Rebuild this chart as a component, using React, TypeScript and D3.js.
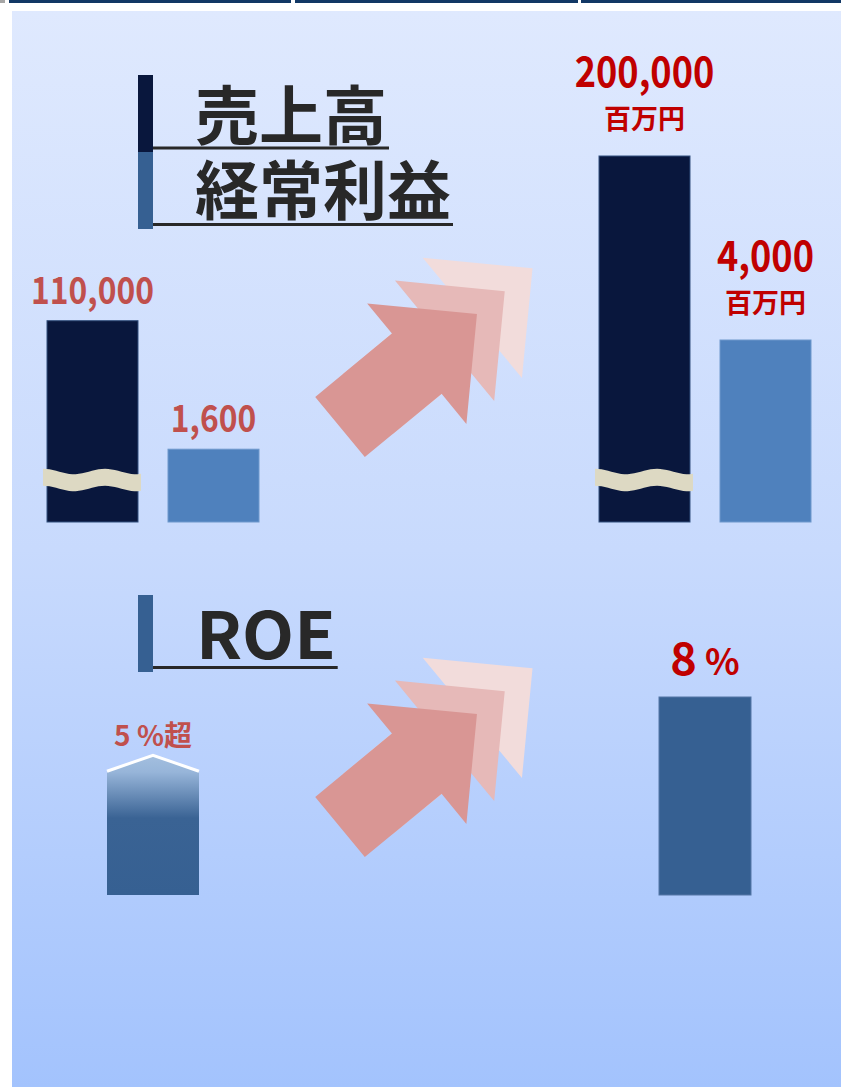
import React, { useLayoutEffect, useRef, useState } from "react";
import * as d3 from "d3";

// ---- data ----
const periods = ["現在", "目標"];
const metrics = ["売上高", "経常利益"];
const salesValues = [110000, 200000];
const profitValues = [1600, 4000];
const roeValues = [5, 8];
const roeSuffix = ["超", ""];
const unitLabels = ["", "百万円"];
const roeTitle = "ROE";

const W = 841;
const H = 1087;
const FONT = "'Noto Sans CJK JP', 'Noto Sans', sans-serif";

const C = {
  sales: "#09173d",
  salesStroke: "#33507e",
  profit: "#4f81bd",
  profitStroke: "#6e98cc",
  legendProfit: "#366092",
  roe: "#366092",
  title: "#282828",
  labelNow: "#c0504d",
  labelGoal: "#c00000",
  wave: "#ddd9c3",
  arrows: ["#f2dcdb", "#e6b9b8", "#d99694"],
};

function Title({ x, y, text, size, lineStart, lineY, sx = 1 }: any) {
  const ref = useRef<SVGTextElement>(null);
  const [w, setW] = useState(text.length * size);
  useLayoutEffect(() => {
    if (ref.current) setW(ref.current.getComputedTextLength() * sx);
  }, [text, size, sx]);
  return (
    <g>
      <text
        ref={ref}
        transform={`translate(${x},${y}) scale(${sx},1)`}
        fontFamily={FONT}
        fontWeight={700}
        fontSize={size}
        fill={C.title}
      >
        {text}
      </text>
      <line x1={lineStart} x2={x + w + 2} y1={lineY} y2={lineY} stroke={C.title} strokeWidth={3} />
    </g>
  );
}

function Label({ x, y, size, fill, sx, children }: any) {
  return (
    <text
      transform={`translate(${x},${y}) scale(${sx},1)`}
      textAnchor="middle"
      fontFamily={FONT}
      fontWeight={700}
      fontSize={size}
      fill={fill}
    >
      {children}
    </text>
  );
}

function Arrow({ x, y, angle }: any) {
  const shaftHW = 39;
  const shaftLen = 99.5;
  const headHW = 78;
  const headLen = 78;
  const shape: [number, number][] = [
    [0, -shaftHW],
    [shaftLen, -shaftHW],
    [shaftLen, -headHW],
    [shaftLen + headLen, 0],
    [shaftLen, headHW],
    [shaftLen, shaftHW],
    [0, shaftHW],
  ];
  const d = d3.line()(shape) + "Z";
  const step = 36;
  return (
    <g transform={`translate(${x},${y}) rotate(${angle})`}>
      {C.arrows.map((col, i) => (
        <path key={i} d={d} fill={col} transform={`translate(${(C.arrows.length - 1 - i) * step},0)`} />
      ))}
    </g>
  );
}

function waveBand(x0: number, x1: number, yTop: number, thick: number) {
  const P = 62;
  const A = 2.7;
  const n = 30;
  const pts: [number, number][] = d3.range(n + 1).map((i) => {
    const x = x0 + ((x1 - x0) * i) / n;
    return [x, yTop - A * Math.cos((2 * Math.PI * (x - x0)) / P)];
  });
  const bottom = pts.map(([x, y]) => [x, y + thick] as [number, number]).reverse();
  const line = d3.line();
  return line(pts) + "L" + (line(bottom) as string).slice(1) + "Z";
}

export default function App() {
  const xPeriod = d3.scalePoint<string>().domain(periods).range([153, 705]);
  const xMetric = d3.scaleBand<string>().domain(metrics).range([-106, 106]).paddingInner(0.248);
  const bw = xMetric.bandwidth();
  const ySales = d3.scaleLinear().domain([0, 200000]).range([522, 156]);
  const yProfit = d3.scaleLinear().domain([0, 4000]).range([522, 340]);
  const yRoe = d3.scaleLinear().domain([0, 8]).range([895, 697]);
  const fmt = d3.format(",");
  const roeW = 92;
  const peak = 16;

  const numSize = [37, 42];
  const labelCol = [C.labelNow, C.labelGoal];
  const condense = 0.86;

  const metricData = [
    { key: metrics[0], values: salesValues, y: ySales, fill: C.sales, stroke: C.salesStroke, broken: true },
    { key: metrics[1], values: profitValues, y: yProfit, fill: C.profit, stroke: C.profitStroke, broken: false },
  ];

  return (
    <svg width={W} height={H} style={{ position: "absolute", left: 0, top: 0 }} xmlns="http://www.w3.org/2000/svg">
      <defs>
        <linearGradient id="bg" x1="0" y1="0" x2="0" y2="1">
          <stop offset="0" stopColor="#dfe9fe" />
          <stop offset="0.5" stopColor="#c8dafd" />
          <stop offset="1" stopColor="#a3c3fd" />
        </linearGradient>
        <linearGradient id="roeFade" gradientUnits="userSpaceOnUse" x1="0" x2="0" y1={yRoe(roeValues[0]) - peak} y2={yRoe(0)}>
          <stop offset="0" stopColor="#a3bfdf" />
          <stop offset="0.12" stopColor="#97b5d9" />
          <stop offset="0.45" stopColor="#3a6394" />
          <stop offset="1" stopColor="#366092" />
        </linearGradient>
      </defs>

      {/* page tabs */}
      <rect x={0} y={0} width={W} height={H} fill="#ffffff" />
      <rect x={0} y={0} width={5} height={3} fill="#a6a6a6" />
      {[[9, 291], [295, 578], [581, W]].map(([a, b], i) => (
        <rect key={i} x={a} y={0} width={b - a} height={3} fill="#123865" />
      ))}

      {/* panel */}
      <rect x={12} y={11} width={W - 12} height={H - 11} fill="url(#bg)" />

      {/* legend: sales / profit */}
      <rect x={138} y={75} width={15} height={77} fill={C.sales} />
      <rect x={138} y={152} width={15} height={77} fill={C.legendProfit} />
      <Title x={195} y={139} text={metrics[0]} size={64} lineStart={153} lineY={148} />
      <Title x={195} y={214} text={metrics[1]} size={64} lineStart={153} lineY={224.5} />

      {/* legend: ROE */}
      <rect x={138} y={595} width={15} height={77} fill={C.roe} />
      <Title x={196} y={659} text={roeTitle} size={65} lineStart={153} lineY={667.5} sx={1.04} />

      {/* arrows */}
      <Arrow x={340} y={427} angle={-39.5} />
      <Arrow x={340} y={827} angle={-39.5} />

      {/* sales & profit bars */}
      {periods.map((p, pi) => (
        <g key={p}>
          {metricData.map((m) => {
            const x = (xPeriod(p) as number) + (xMetric(m.key) as number);
            const top = m.y(m.values[pi]);
            const bottom = m.y(0);
            const cx = x + bw / 2;
            return (
              <g key={m.key}>
                <rect x={x} y={top} width={bw} height={bottom - top} fill={m.fill} stroke={m.stroke} strokeWidth={1} />
                {m.broken && <path d={waveBand(x - 4, x + bw + 3, 471.5, 17)} fill={C.wave} />}
                <Label x={cx} y={pi === 0 ? top - 17 : top - 69} size={numSize[pi]} fill={labelCol[pi]} sx={condense}>
                  {fmt(m.values[pi])}
                </Label>
                {unitLabels[pi] && (
                  <Label x={cx} y={top - 27} size={27} fill={labelCol[pi]} sx={1}>
                    {unitLabels[pi]}
                  </Label>
                )}
              </g>
            );
          })}
        </g>
      ))}

      {/* ROE bars */}
      {periods.map((p, pi) => {
        const cx = xPeriod(p) as number;
        const x0 = cx - roeW / 2;
        const x1 = cx + roeW / 2;
        const top = yRoe(roeValues[pi]);
        const bottom = yRoe(0);
        const exceed = roeSuffix[pi] !== "";
        const labelY = top - (exceed ? 25 : 22);
        return (
          <g key={p}>
            {exceed ? (
              <>
                <path d={`M${x0},${bottom}L${x0},${top}L${cx},${top - peak}L${x1},${top}L${x1},${bottom}Z`} fill="url(#roeFade)" />
                <path d={`M${x0},${top}L${cx},${top - peak}L${x1},${top}`} fill="none" stroke="#ffffff" strokeWidth={3} />
              </>
            ) : (
              <rect x={x0} y={top} width={roeW} height={bottom - top} fill={C.roe} stroke="#5577a6" strokeWidth={1} />
            )}
            {exceed ? (
              <Label x={cx} y={labelY} size={28} fill={labelCol[pi]} sx={1}>
                {`${roeValues[pi]} %${roeSuffix[pi]}`}
              </Label>
            ) : (
              <Label x={cx} y={labelY} size={45} fill={labelCol[pi]} sx={1}>
                <tspan>{roeValues[pi]}</tspan>
                <tspan fontSize={36}>{" %"}</tspan>
              </Label>
            )}
          </g>
        );
      })}
    </svg>
  );
}
